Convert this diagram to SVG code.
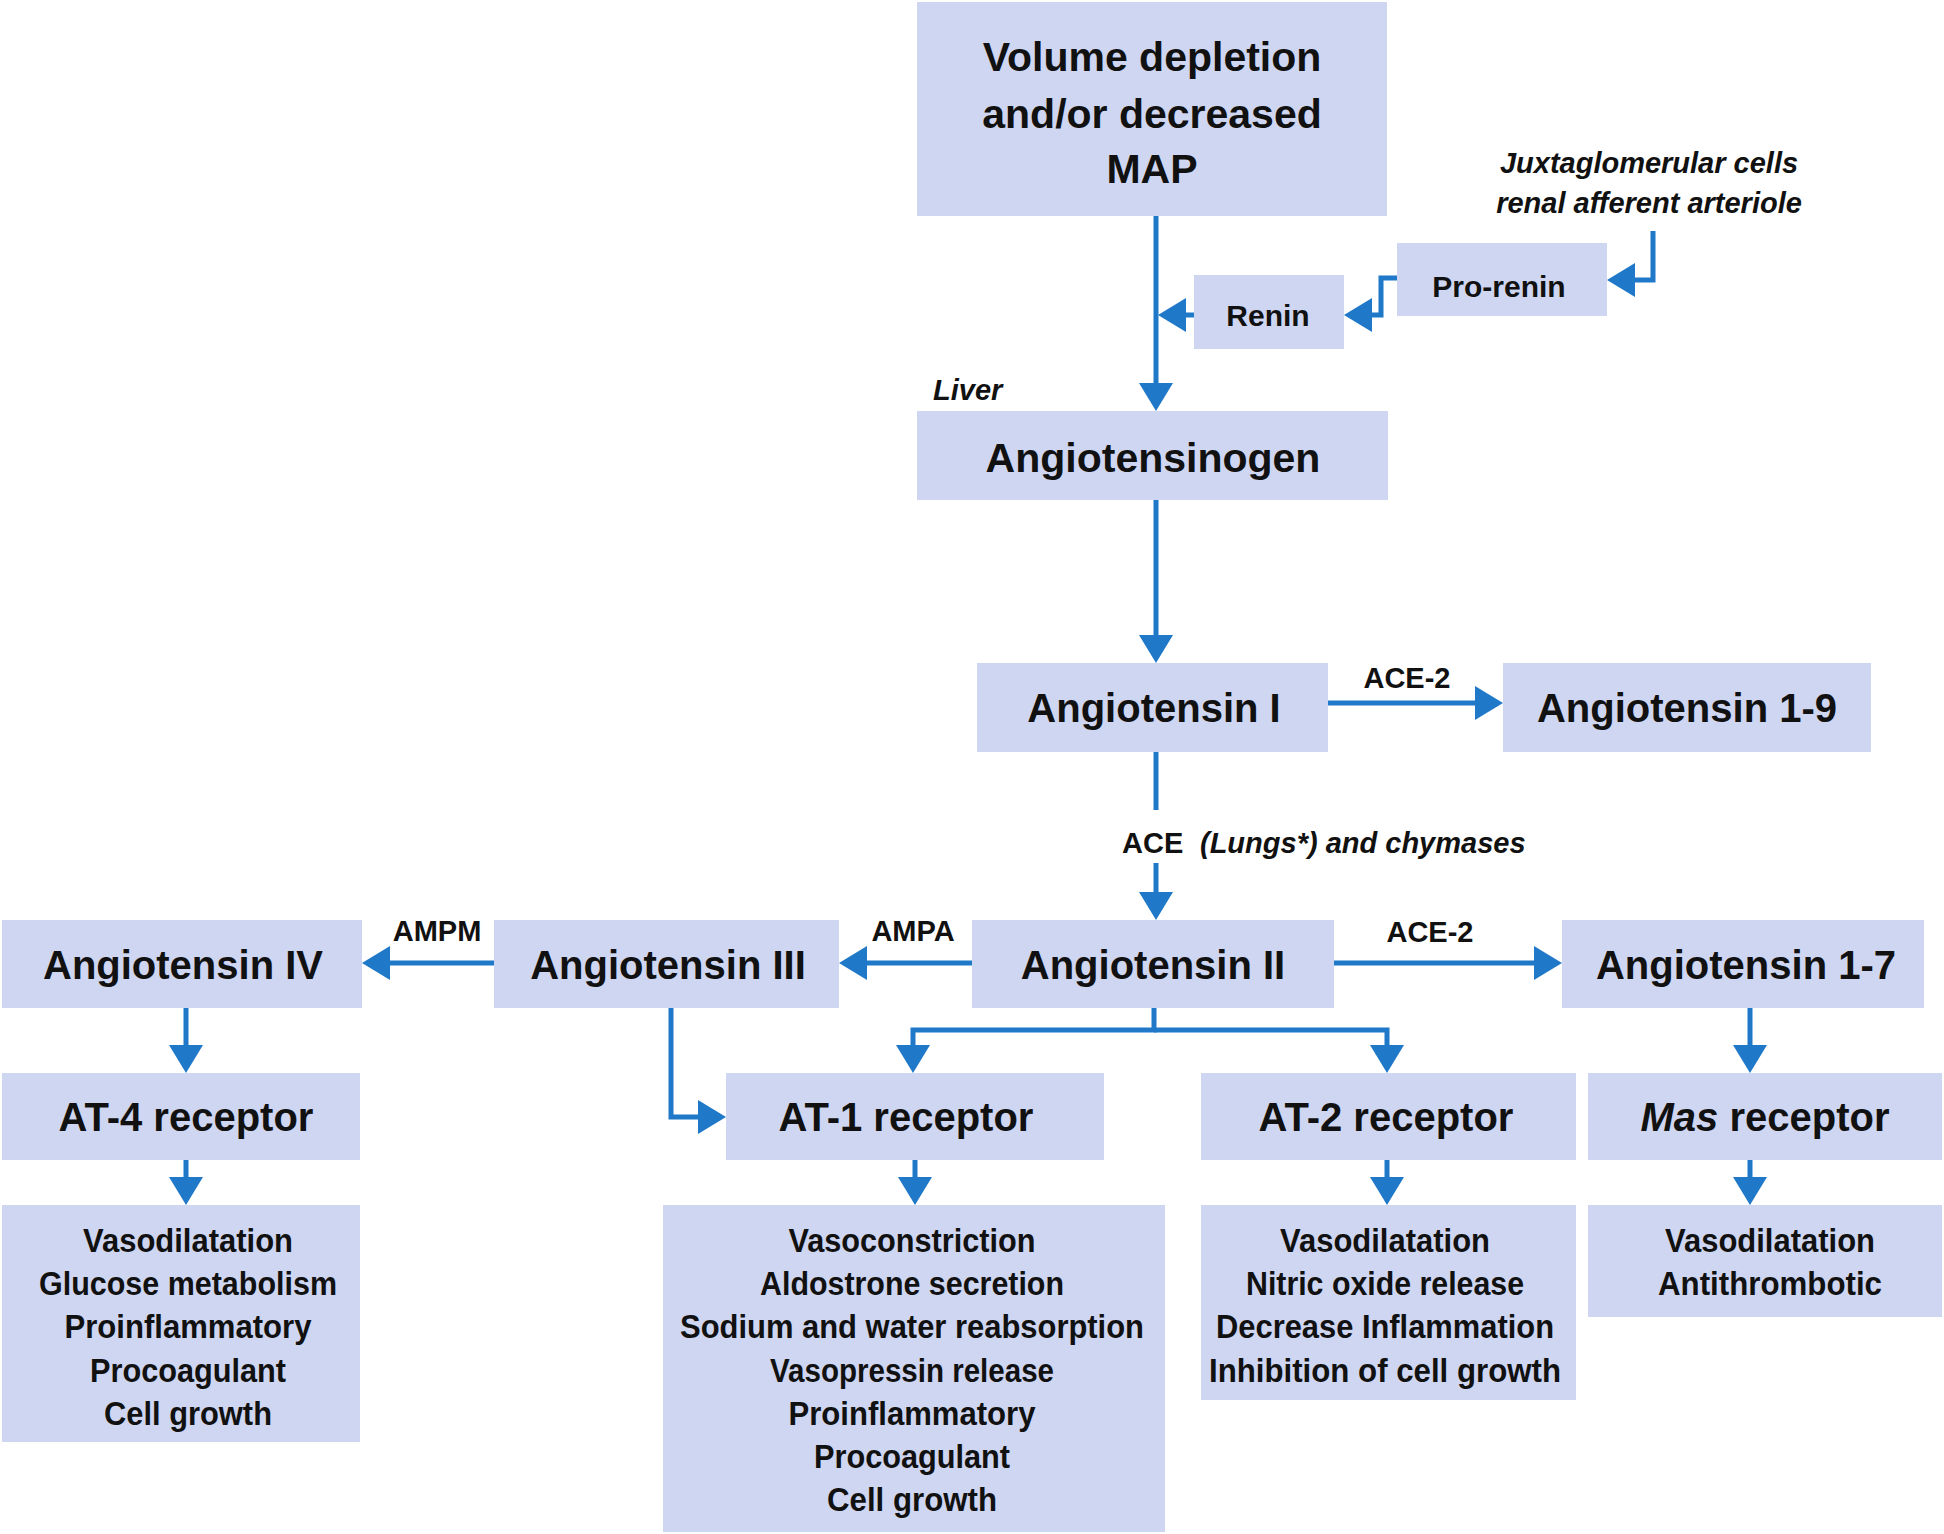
<svg xmlns="http://www.w3.org/2000/svg" width="1944" height="1534" viewBox="0 0 1944 1534">
<style>
.box{fill:#cfd6f2;}
.lbl{font-family:"Liberation Sans",Arial,sans-serif;font-weight:bold;font-size:40px;fill:#111;text-anchor:middle;}
.big{font-size:41px;}
.eff{font-family:"Liberation Sans",Arial,sans-serif;font-weight:bold;font-size:33px;fill:#111;text-anchor:middle;}
.sm{font-family:"Liberation Sans",Arial,sans-serif;font-weight:bold;font-size:29px;fill:#111;text-anchor:middle;}
.it{font-family:"Liberation Sans",Arial,sans-serif;font-weight:bold;font-style:italic;font-size:29px;fill:#111;}
.up{font-family:"Liberation Sans",Arial,sans-serif;font-weight:bold;font-size:29px;fill:#111;}
.enz{font-family:"Liberation Sans",Arial,sans-serif;font-weight:bold;font-size:30px;fill:#111;text-anchor:middle;}
.con{fill:none;stroke:#1f78c8;stroke-width:5;}
.arr{marker-end:url(#ah);}
</style>
<defs>
<marker id="ah" markerUnits="userSpaceOnUse" markerWidth="28" markerHeight="34" refX="0" refY="17" orient="auto" overflow="visible">
<path d="M0,0 L28,17 L0,34 z" fill="#1f78c8"/>
</marker>
</defs>
<rect width="1944" height="1534" fill="#fff"/>

<g id="volume">
<rect class="box" x="917" y="2" width="470" height="214"/>
<text class="lbl big" x="1152" y="71">Volume depletion</text>
<text class="lbl big" x="1152" y="128">and/or decreased</text>
<text class="lbl big" x="1152" y="183">MAP</text>
</g>

<g id="juxta">
<text class="it" x="1649" y="173" text-anchor="middle">Juxtaglomerular cells</text>
<text class="it" x="1649" y="213" text-anchor="middle">renal afferent arteriole</text>
</g>

<g id="prorenin">
<rect class="box" x="1397" y="243" width="210" height="73"/>
<text class="enz" x="1499" y="297">Pro-renin</text>
</g>

<g id="renin">
<rect class="box" x="1194" y="275" width="150" height="74"/>
<text class="enz" x="1268" y="326">Renin</text>
</g>

<g id="liver">
<text class="it" x="933" y="400">Liver</text>
</g>

<g id="angiotensinogen">
<rect class="box" x="917" y="411" width="471" height="89"/>
<text class="lbl big" x="1153" y="472">Angiotensinogen</text>
</g>

<g id="ang1">
<rect class="box" x="977" y="663" width="351" height="89"/>
<text class="lbl" x="1154" y="722">Angiotensin I</text>
</g>

<g id="ang19">
<rect class="box" x="1503" y="663" width="368" height="89"/>
<text class="lbl" x="1687" y="722">Angiotensin 1-9</text>
</g>

<g id="ace">
<text class="up" x="1122" y="853">ACE</text>
<text class="it" x="1200" y="853">(Lungs*) and chymases</text>
</g>

<g id="ang2">
<rect class="box" x="972" y="920" width="362" height="88"/>
<text class="lbl" x="1153" y="979">Angiotensin II</text>
</g>

<g id="ang3">
<rect class="box" x="494" y="920" width="345" height="88"/>
<text class="lbl" x="668" y="979">Angiotensin III</text>
</g>

<g id="ang4">
<rect class="box" x="2" y="920" width="360" height="88"/>
<text class="lbl" x="183" y="979">Angiotensin IV</text>
</g>

<g id="ang17">
<rect class="box" x="1562" y="920" width="362" height="88"/>
<text class="lbl" x="1746" y="979">Angiotensin 1-7</text>
</g>

<g id="at4">
<rect class="box" x="2" y="1073" width="358" height="87"/>
<text class="lbl" x="186" y="1131">AT-4 receptor</text>
</g>

<g id="at1">
<rect class="box" x="726" y="1073" width="378" height="87"/>
<text class="lbl" x="906" y="1131">AT-1 receptor</text>
</g>

<g id="at2">
<rect class="box" x="1201" y="1073" width="375" height="87"/>
<text class="lbl" x="1386" y="1131">AT-2 receptor</text>
</g>

<g id="mas">
<rect class="box" x="1588" y="1073" width="354" height="87"/>
<text class="lbl" x="1765" y="1131"><tspan font-style="italic">Mas</tspan> receptor</text>
</g>

<g id="at4effects">
<rect class="box" x="2" y="1205" width="358" height="237"/>
<text class="eff" x="188" y="1252" textLength="210" lengthAdjust="spacingAndGlyphs">Vasodilatation</text>
<text class="eff" x="188" y="1295" textLength="298" lengthAdjust="spacingAndGlyphs">Glucose metabolism</text>
<text class="eff" x="188" y="1338" textLength="247" lengthAdjust="spacingAndGlyphs">Proinflammatory</text>
<text class="eff" x="188" y="1382" textLength="196" lengthAdjust="spacingAndGlyphs">Procoagulant</text>
<text class="eff" x="188" y="1425" textLength="168" lengthAdjust="spacingAndGlyphs">Cell growth</text>
</g>

<g id="at1effects">
<rect class="box" x="663" y="1205" width="502" height="327"/>
<text class="eff" x="912" y="1252" textLength="247" lengthAdjust="spacingAndGlyphs">Vasoconstriction</text>
<text class="eff" x="912" y="1295" textLength="304" lengthAdjust="spacingAndGlyphs">Aldostrone secretion</text>
<text class="eff" x="912" y="1338" textLength="464" lengthAdjust="spacingAndGlyphs">Sodium and water reabsorption</text>
<text class="eff" x="912" y="1382" textLength="284" lengthAdjust="spacingAndGlyphs">Vasopressin release</text>
<text class="eff" x="912" y="1425" textLength="247" lengthAdjust="spacingAndGlyphs">Proinflammatory</text>
<text class="eff" x="912" y="1468" textLength="196" lengthAdjust="spacingAndGlyphs">Procoagulant</text>
<text class="eff" x="912" y="1511" textLength="170" lengthAdjust="spacingAndGlyphs">Cell growth</text>
</g>

<g id="at2effects">
<rect class="box" x="1201" y="1205" width="375" height="195"/>
<text class="eff" x="1385" y="1252" textLength="210" lengthAdjust="spacingAndGlyphs">Vasodilatation</text>
<text class="eff" x="1385" y="1295" textLength="278" lengthAdjust="spacingAndGlyphs">Nitric oxide release</text>
<text class="eff" x="1385" y="1338" textLength="338" lengthAdjust="spacingAndGlyphs">Decrease Inflammation</text>
<text class="eff" x="1385" y="1382" textLength="352" lengthAdjust="spacingAndGlyphs">Inhibition of cell growth</text>
</g>

<g id="maseffects">
<rect class="box" x="1588" y="1205" width="354" height="112"/>
<text class="eff" x="1770" y="1252" textLength="210" lengthAdjust="spacingAndGlyphs">Vasodilatation</text>
<text class="eff" x="1770" y="1295" textLength="224" lengthAdjust="spacingAndGlyphs">Antithrombotic</text>
</g>

<g id="connectors">
<path class="con arr" d="M1156,216 V383"/>
<path class="con arr" d="M1194,315 H1186"/>
<path class="con arr" d="M1397,278 H1381 V315 H1372"/>
<path class="con arr" d="M1653,231 V280 H1635"/>
<path class="con arr" d="M1156,500 V635"/>
<path class="con arr" d="M1328,703 H1475"/>
<path class="con" d="M1156,752 V810"/>
<path class="con arr" d="M1156,863 V892"/>
<path class="con arr" d="M972,963 H867"/>
<path class="con arr" d="M494,963 H390"/>
<path class="con arr" d="M1334,963 H1534"/>
<path class="con arr" d="M186,1008 V1045"/>
<path class="con arr" d="M671,1008 V1117 H698"/>
<path class="con arr" d="M1154,1008 V1030 H913 V1045"/>
<path class="con arr" d="M1154,1030 H1387 V1045"/>
<path class="con arr" d="M1750,1008 V1045"/>
<path class="con arr" d="M186,1160 V1177"/>
<path class="con arr" d="M915,1160 V1177"/>
<path class="con arr" d="M1387,1160 V1177"/>
<path class="con arr" d="M1750,1160 V1177"/>
<text class="sm" x="1407" y="688">ACE-2</text>
<text class="sm" x="1430" y="942">ACE-2</text>
<text class="sm" x="437" y="941">AMPM</text>
<text class="sm" x="913" y="941">AMPA</text>
</g>
</svg>
